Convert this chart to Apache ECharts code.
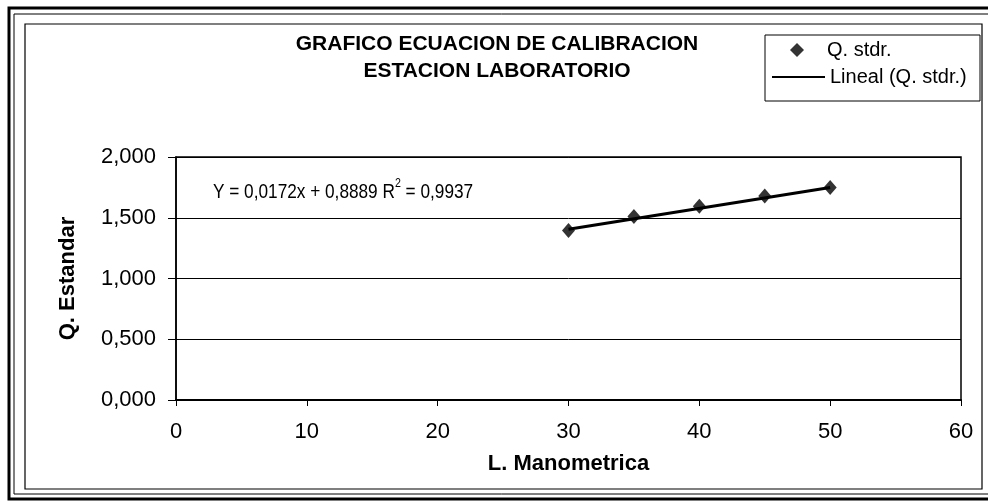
<!DOCTYPE html>
<html>
<head>
<meta charset="utf-8">
<script src="https://cdn.jsdelivr.net/npm/echarts@6/dist/echarts.min.js"></script>
<style>
  html, body { margin: 0; padding: 0; background: #fff; }
  #chart { width: 988px; height: 502px; }
</style>
</head>
<body>
<div id="chart"></div>
<script>
// Calibration readings: manometer level vs. standard flow
const lecturas = [30, 35, 40, 45, 50];
const caudalStd = [1.395, 1.510, 1.595, 1.680, 1.750];

// Linear fit reported on the chart
const pendiente = 0.0172;
const intercepto = 0.8889;
const r2 = 0.9937;
const tramoAjuste = [30, 50];

const xTicks = [0, 10, 20, 30, 40, 50, 60];
const yTicks = ['0,000', '0,500', '1,000', '1,500', '2,000'];

const FONT = '"Liberation Sans", Arial, sans-serif';
const coma = (v, d) => v.toFixed(d).replace('.', ',');

const puntos = lecturas.map((x, i) => [x, caudalStd[i]]);
const recta = tramoAjuste.map(x => [x, pendiente * x + intercepto]);

const legendText = { fontFamily: FONT, fontSize: 20, color: '#000' };

const chart = echarts.init(document.getElementById('chart'));
chart.setOption({
  animation: false,
  backgroundColor: '#ffffff',
  title: {
    text: 'GRAFICO ECUACION DE CALIBRACION\nESTACION LABORATORIO',
    left: 497,
    top: 31,
    padding: 0,
    textAlign: 'center',
    textStyle: { fontFamily: FONT, fontWeight: 'bold', fontSize: 21, lineHeight: 27, color: '#000' }
  },
  legend: [
    {
      left: 790, top: 40, padding: 0,
      itemWidth: 14, itemHeight: 14,
      textStyle: Object.assign({ padding: [0, 0, 0, 18] }, legendText),
      data: [{ name: 'Q. stdr.', icon: 'diamond' }]
    },
    {
      left: 772, top: 67, padding: 0,
      itemWidth: 53, itemHeight: 2,
      itemStyle: { color: '#000' },
      textStyle: legendText,
      data: [{ name: 'Lineal (Q. stdr.)', icon: 'rect' }]
    }
  ],
  grid: {
    left: 176, right: 27, top: 157, bottom: 102,
    show: true, borderColor: '#000', borderWidth: 1.5, backgroundColor: 'transparent'
  },
  xAxis: {
    type: 'value',
    min: xTicks[0], max: xTicks[xTicks.length - 1], interval: 10,
    name: 'L. Manometrica',
    nameLocation: 'middle',
    nameGap: 53,
    nameTextStyle: { fontFamily: FONT, fontWeight: 'bold', fontSize: 22, color: '#000' },
    axisLine: { show: true, lineStyle: { color: '#000', width: 2 } },
    axisTick: { show: true, inside: false, length: 6, lineStyle: { color: '#000' } },
    axisLabel: { fontFamily: FONT, fontSize: 22, color: '#000', margin: 21,
      formatter: v => String(xTicks[xTicks.indexOf(v)]) },
    splitLine: { show: false }
  },
  yAxis: {
    type: 'value',
    min: 0, max: 2, interval: 0.5,
    name: 'Q. Estandar',
    nameLocation: 'middle',
    nameGap: 97,
    nameRotate: 90,
    nameTextStyle: { fontFamily: FONT, fontWeight: 'bold', fontSize: 22, color: '#000' },
    axisLine: { show: true, lineStyle: { color: '#000', width: 1.5 } },
    axisTick: { show: true, inside: false, length: 8, lineStyle: { color: '#000' } },
    axisLabel: { fontFamily: FONT, fontSize: 22, color: '#000', margin: 20,
      formatter: v => yTicks[Math.round(v / 0.5)] },
    splitLine: { show: true, lineStyle: { color: '#000', width: 1 } }
  },
  graphic: [
    // outer page frame
    { type: 'rect', silent: true, shape: { x: 9, y: 8, width: 990, height: 491 },
      style: { fill: 'none', stroke: '#000', lineWidth: 3 } },
    { type: 'rect', silent: true, shape: { x: 14, y: 14, width: 990, height: 480 },
      style: { fill: 'none', stroke: '#000', lineWidth: 1 } },
    // chart area frame
    { type: 'rect', silent: true, shape: { x: 25, y: 24, width: 957, height: 465 },
      style: { fill: 'none', stroke: '#000', lineWidth: 1.2 } },
    // legend frame
    { type: 'rect', silent: true, z: -1, shape: { x: 765, y: 35, width: 215, height: 66 },
      style: { fill: '#fff', stroke: '#000', lineWidth: 1 } },
    // fitted equation
    { type: 'text', x: 213, y: 190, scaleX: 0.82, silent: true,
      style: {
        text: '{a|Y = ' + coma(pendiente, 4) + 'x + ' + coma(intercepto, 4) + ' R}{s|2}{a| = ' + coma(r2, 4) + '}',
        verticalAlign: 'middle',
        rich: {
          a: { fontFamily: FONT, fontSize: 21, color: '#000', lineHeight: 26, verticalAlign: 'bottom' },
          s: { fontFamily: FONT, fontSize: 13, color: '#000', lineHeight: 26, verticalAlign: 'top', padding: [0, 0, 10, 0] }
        }
      } }
  ],
  series: [
    {
      name: 'Q. stdr.',
      type: 'scatter',
      data: puntos,
      symbol: 'diamond',
      symbolSize: [13, 15],
      itemStyle: { color: '#000' },
      z: 3
    },
    {
      name: 'Lineal (Q. stdr.)',
      type: 'line',
      data: recta,
      symbol: 'none',
      itemStyle: { color: '#000' },
      lineStyle: { color: '#000', width: 3 },
      z: 2
    }
  ]
});
</script>
</body>
</html>
